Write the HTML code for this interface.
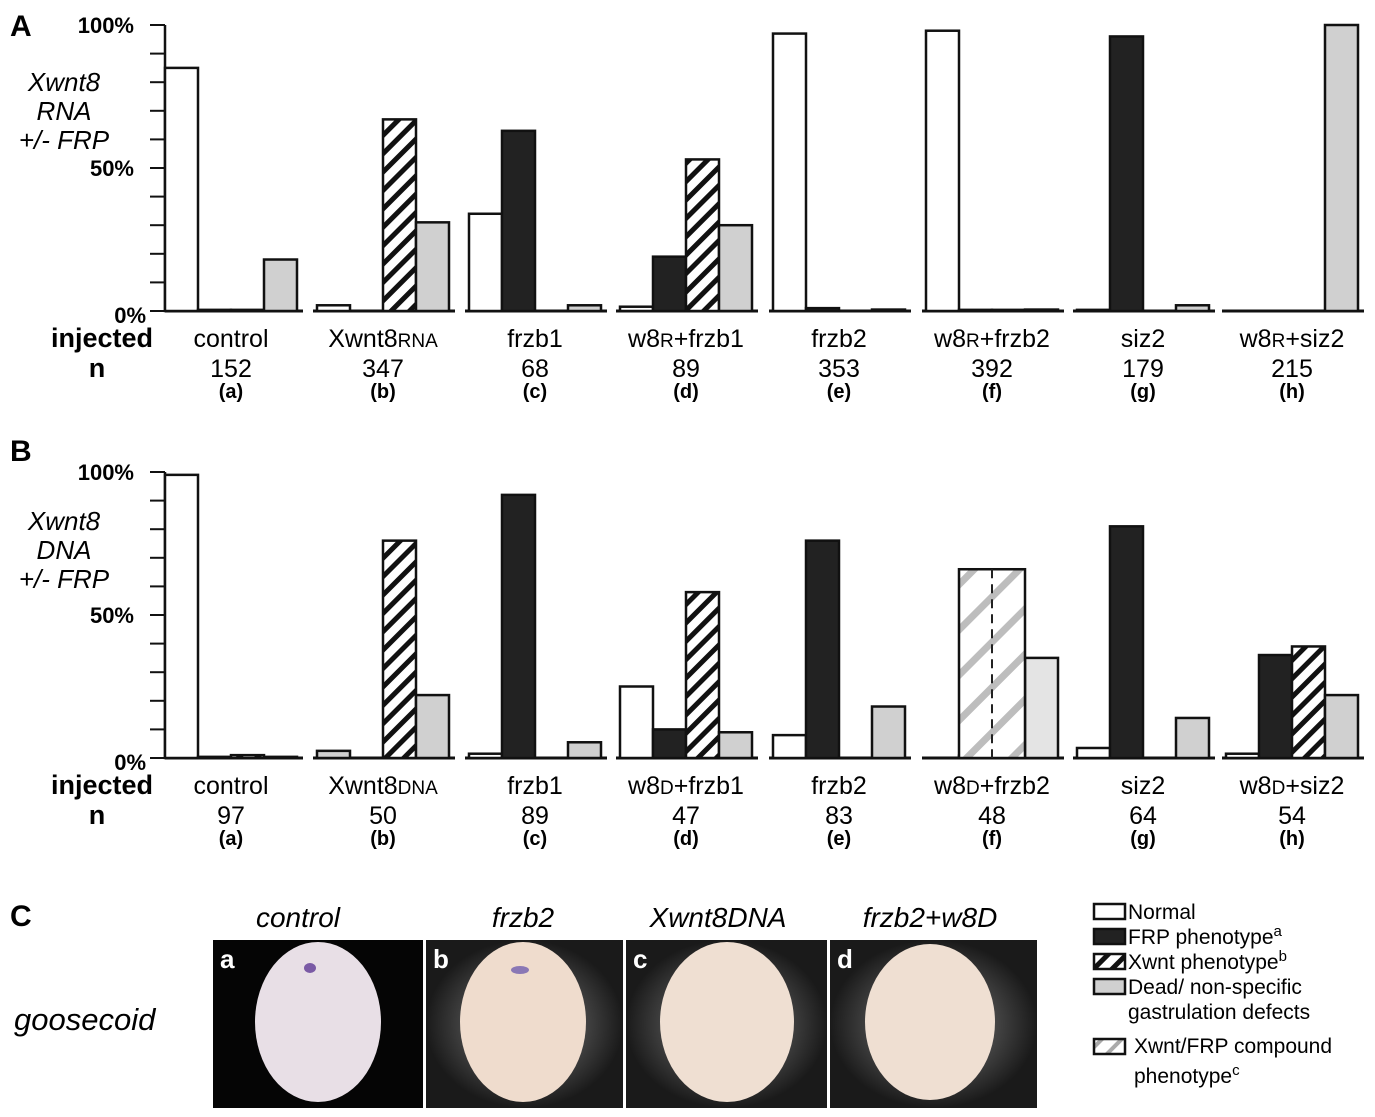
<!DOCTYPE html>
<html><head><meta charset="utf-8"><style>
html,body{margin:0;padding:0;background:#fff;}
svg{display:block;font-family:"Liberation Sans",sans-serif;}
</style></head><body>
<svg id="fig" width="1375" height="1117" viewBox="0 0 1375 1117" xmlns="http://www.w3.org/2000/svg">
<defs>
<pattern id="hatch" patternUnits="userSpaceOnUse" width="13" height="13" patternTransform="rotate(45)">
<rect width="13" height="13" fill="#fff"/><rect x="0" y="0" width="5" height="13" fill="#111"/></pattern>
<pattern id="cmp" patternUnits="userSpaceOnUse" width="32" height="32" patternTransform="rotate(45)">
<rect width="32" height="32" fill="#fff"/><rect x="0" y="0" width="7" height="32" fill="#bdbdbd"/></pattern>
<pattern id="cmpS" patternUnits="userSpaceOnUse" width="14" height="14" patternTransform="rotate(45)">
<rect width="14" height="14" fill="#fff"/><rect x="0" y="0" width="4" height="14" fill="#aaa"/></pattern>
<radialGradient id="glow" cx="50%" cy="50%" r="50%"><stop offset="0.55" stop-color="#4a4a4a"/><stop offset="1" stop-color="#1a1a1a"/></radialGradient>
</defs>
<g id="panelA"></g>
<g id="panelB"></g>
<g id="panelC">
<text x="10" y="926" font-size="30" font-weight="bold">C</text>
<text x="14" y="1030" font-size="31" font-style="italic">goosecoid</text>
<g font-size="28" font-style="italic" text-anchor="middle">
<text x="298" y="927">control</text>
<text x="523" y="927">frzb2</text>
<text x="718" y="927">Xwnt8DNA</text>
<text x="930" y="927">frzb2+w8D</text>
</g>
<g><rect x="213" y="940" width="210" height="168" fill="#050505"/>
<ellipse cx="318" cy="1022" rx="63" ry="80" fill="#e8dfe6"/><ellipse cx="310" cy="968" rx="6" ry="5" fill="#7a5aa5"/>
<text x="220" y="968" fill="#fff" font-size="26" font-weight="bold">a</text></g>
<g><rect x="426" y="940" width="197" height="168" fill="url(#glow)"/>
<ellipse cx="523" cy="1022" rx="63" ry="80" fill="#efdccd"/><ellipse cx="520" cy="970" rx="9" ry="4" fill="#8a78b5"/>
<text x="433" y="968" fill="#fff" font-size="26" font-weight="bold">b</text></g>
<g><rect x="626" y="940" width="201" height="168" fill="url(#glow)"/>
<ellipse cx="727" cy="1022" rx="67" ry="80" fill="#efdfd2"/>
<text x="633" y="968" fill="#fff" font-size="26" font-weight="bold">c</text></g>
<g><rect x="830" y="940" width="207" height="168" fill="url(#glow)"/>
<ellipse cx="930" cy="1022" rx="65" ry="78" fill="#efdfd2"/>
<text x="837" y="968" fill="#fff" font-size="26" font-weight="bold">d</text></g>
</g>
<g id="legend" font-size="21">
<g><rect x="1094" y="904" width="31" height="15" fill="#fff" stroke="#111" stroke-width="2.5"/><text x="1128" y="919">Normal</text></g>
<g><rect x="1094" y="929" width="31" height="15" fill="#222" stroke="#111" stroke-width="2.5"/><text x="1128" y="944">FRP phenotype<tspan font-size="15" dy="-8">a</tspan></text></g>
<g><rect x="1094" y="954" width="31" height="15" fill="url(#hatch)" stroke="#111" stroke-width="2.5"/><text x="1128" y="969">Xwnt phenotype<tspan font-size="15" dy="-8">b</tspan></text></g>
<g><rect x="1094" y="979" width="31" height="15" fill="#d0d0d0" stroke="#111" stroke-width="2.5"/><text x="1128" y="994">Dead/ non-specific</text><text x="1128" y="1019">gastrulation defects</text></g>
<g><rect x="1094" y="1039" width="31" height="15" fill="url(#cmpS)" stroke="#111" stroke-width="2.5"/><text x="1134" y="1053">Xwnt/FRP compound</text><text x="1134" y="1083">phenotype<tspan font-size="15" dy="-8">c</tspan></text></g>
</g>
</svg>
<script>
const categoriesA = ["control","Xwnt8|RNA","frzb1","w8|R|+frzb1","frzb2","w8|R|+frzb2","siz2","w8|R|+siz2"];
const categoriesB = ["control","Xwnt8|DNA","frzb1","w8|D|+frzb1","frzb2","w8|D|+frzb2","siz2","w8|D|+siz2"];
const letters = ["(a)","(b)","(c)","(d)","(e)","(f)","(g)","(h)"];
const nA = [152,347,68,89,353,392,179,215];
const nB = [97,50,89,47,83,48,64,54];
const normalA = [85,2,34,1.5,97,98,0.4,0];
const frpA = [0.4,0,63,19,1,0.4,96,0];
const xwntA = [0.4,67,0,53,0,0.4,0,0];
const deadA = [18,31,2,30,0.5,0.5,2,100];
const compoundA = [0,0,0,0,0,0,0,0];
const normalB = [99,0,1.5,25,8,0,3.5,1.5];
const frpB = [0.4,0,92,10,76,0.8,81,36];
const xwntB = [1,76,0,58,0,0,0,39];
const deadB = [0.4,22,5.5,9,18,35,14,22];
const compoundB = [0,0,0,0,0,66,0,0];
const deadOtherB = [0,2.5,0,0,0,0,0,0];
const yTicks = [0,10,20,30,40,50,60,70,80,90,100];
const yTickLabels = {0:"0%",50:"50%",100:"100%"};

const NS="http://www.w3.org/2000/svg";
function mk(tag, attrs, parent){const e=document.createElementNS(NS,tag);for(const k in attrs)e.setAttribute(k,attrs[k]);parent.appendChild(e);return e;}
const groupX=[165,317,469,620,773,926,1077,1226];
const BW=33;

function drawPanel(g, cfg){
  const y=v=>cfg.y0-(v/100)*(cfg.y0-cfg.y100);
  const ax=mk('line',{x1:165,x2:165,y1:y(100),y2:y(0),stroke:'#111','stroke-width':2.5},g);
  
  
  yTicks.forEach(t=>{
    const tk=mk('line',{x1:150,x2:165,y1:y(t),y2:y(t),stroke:'#111','stroke-width':2},g);
    
    
    if(yTickLabels[t]){
      const tl=mk('text',{x:t===0?146:134,y:y(t)+(t===0?12:8),'text-anchor':'end','font-size':22,'font-weight':'bold'},g);
      tl.textContent=yTickLabels[t];
      
      
    }
  });
  const pl=mk('text',{x:10,y:cfg.letterY,'font-size':30,'font-weight':'bold'},g);
  pl.textContent=cfg.letter;
  
  
  cfg.title.forEach((s,i)=>{
    const t=mk('text',{x:64,y:cfg.titleY+i*29,'text-anchor':'middle','font-size':26,'font-style':'italic'},g);
    t.textContent=s;
    
    
  });
  const inj=mk('text',{x:153,y:cfg.y0+36,'text-anchor':'end','font-size':27,'font-weight':'bold'},g);
  inj.textContent='injected';
  
  
  const nl=mk('text',{x:97,y:cfg.y0+66,'text-anchor':'middle','font-size':27,'font-weight':'bold'},g);
  nl.textContent='n';
  
  
  cfg.cats.forEach((c,i)=>{
    const gx=groupX[i];
    const bl=mk('line',{x1:gx-(i===0?0:4),x2:gx+4*BW+6,y1:y(0),y2:y(0),stroke:'#111','stroke-width':3},g);
    
    
    const series=[[cfg.normal[i],'#fff',0,'normal'],[cfg.frp[i],'#222',1,'frp'],[cfg.xwnt[i],'url(#hatch)',2,'xwnt'],[cfg.dead[i],cfg.deadFill(i),3,'dead']];
    if(cfg.other && cfg.other[i]>0) series[0]=[cfg.other[i],'#d0d0d0',0,'normal'];
    series.forEach(([v,fill,k,nm])=>{
      if(v<=0)return;
      const r=mk('rect',{x:gx+k*BW,y:y(v),width:BW,height:y(0)-y(v),fill:fill,stroke:'#111','stroke-width':2.5},g);
      
      
    });
    if(cfg.compound[i]>0){
      const v=cfg.compound[i];
      const r=mk('rect',{x:gx+BW,y:y(v),width:2*BW,height:y(0)-y(v),fill:'url(#cmp)',stroke:'#111','stroke-width':2.5},g);
      
      
      const d=mk('line',{x1:gx+2*BW,x2:gx+2*BW,y1:y(v),y2:y(0),stroke:'#222','stroke-width':2,'stroke-dasharray':'9,6'},g);
      
      
    }
    const cx=gx+66;
    const parts=c.split('|');
    const lt=mk('text',{x:cx,y:cfg.y0+36,'text-anchor':'middle','font-size':25},g);
    
    
    parts.forEach((p,j)=>{const ts=mk('tspan',{'font-size':j===1?19:25},lt);ts.textContent=p;});
    const nt=mk('text',{x:cx,y:cfg.y0+66,'text-anchor':'middle','font-size':25},g);
    nt.textContent=cfg.n[i];
    
    
    const lt2=mk('text',{x:cx,y:cfg.y0+87,'text-anchor':'middle','font-size':20,'font-weight':'bold'},g);
    lt2.textContent=letters[i];
    
    
  });
}
drawPanel(document.getElementById('panelA'),{y0:311,y100:25,letter:'A',letterY:36,title:['Xwnt8','RNA','+/- FRP'],titleY:91,
  cats:categoriesA,n:nA,normal:normalA,frp:frpA,xwnt:xwntA,dead:deadA,compound:compoundA,deadFill:()=>'#d0d0d0'});
drawPanel(document.getElementById('panelB'),{y0:758,y100:472,letter:'B',letterY:461,title:['Xwnt8','DNA','+/- FRP'],titleY:530,
  cats:categoriesB,n:nB,normal:normalB,frp:frpB,xwnt:xwntB,dead:deadB,compound:compoundB,other:deadOtherB,deadFill:i=>i===5?'#e4e4e4':'#d0d0d0'});
</script>
</body></html>
